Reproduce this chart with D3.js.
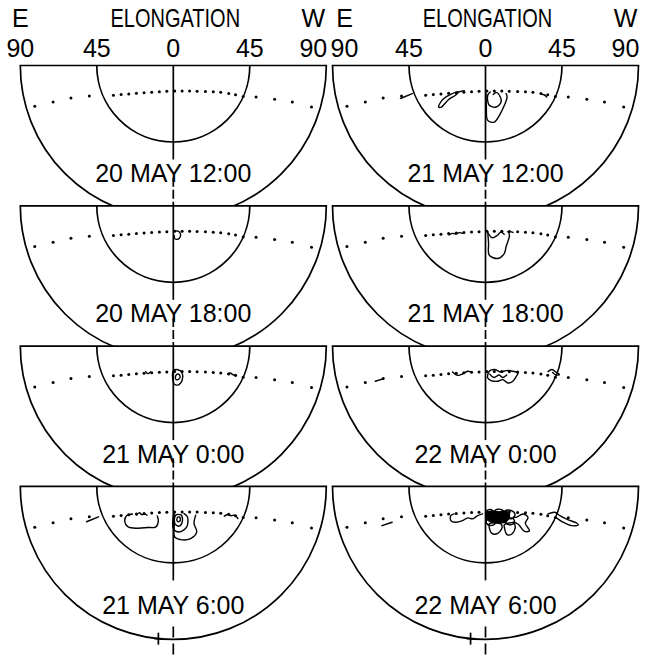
<!DOCTYPE html>
<html>
<head>
<meta charset="utf-8">
<script src="https://cdn.jsdelivr.net/npm/d3@7"></script>
<style>
  html, body { margin: 0; padding: 0; background: #fff; }
  svg { display: block; }
  text { font-family: "Liberation Sans", Arial, sans-serif; fill: #000; }
</style>
</head>
<body>
<svg id="chart" width="651" height="657"></svg>
<script>
// ---- axis text ----
const tickValues = [-90, -45, 0, 45, 90];
const tickLabels = ["90", "45", "0", "45", "90"];
const axisTitle = "ELONGATION";
const sideLabels = ["E", "W"];

// ---- panel timestamps (left column, right column; top to bottom) ----
const leftDates  = ["20 MAY 12:00", "20 MAY 18:00", "21 MAY 0:00", "21 MAY 6:00"];
const rightDates = ["21 MAY 12:00", "21 MAY 18:00", "22 MAY 0:00", "22 MAY 6:00"];

// ---- ecliptic reference dots: elongation (deg, east negative), depth below horizon line (deg) ----
const eclipticX = [-81.5, -70.7, -60.2, -49.4,
  -35.2, -30.7, -26.2, -21.7, -17.2, -12.7, -8.2, -3.8, 0.8, 5.2, 9.6, 14.0, 18.9, 23.5, 27.9, 32.6, 36.6, 41.1,
  48.7, 59.6, 70.0, 81.3];
const eclipticY = [24.0, 21.4, 19.1, 17.9,
  17.5, 17.1, 16.7, 16.3, 16.0, 15.7, 15.4, 15.2, 15.0, 15.0, 15.0, 15.1, 15.3, 15.5, 15.8, 16.4, 17.2, 18.3,
  18.5, 19.8, 21.4, 24.4];

// ---- brightness contours per panel, points as [elongation, depth] in degrees ----
const contours20May1200 = [];
const contours20May1800 = [
  { closed: false, pts: [[0.6, 14.8], [3.2, 15.0], [4.3, 17.0], [3.4, 19.3], [1.0, 19.5], [0.5, 17.5]] }
];
const contours21May0000 = [
  { closed: true,  pts: [[0.0, 14.5], [2.8, 13.9], [5.2, 15.8], [5.3, 19.8], [3.4, 22.6], [0.6, 22.4], [-0.4, 19.0]] },
  { closed: true,  pts: [[1.4, 17.5], [2.8, 16.4], [4.0, 17.6], [3.2, 19.5], [1.6, 19.6]] },
  { closed: false, pts: [[-16.2, 15.0], [-15.0, 16.2], [-13.4, 15.2]] },
  { closed: false, pts: [[32.0, 16.3], [33.5, 15.8], [35.0, 16.8], [36.8, 17.6]] }
];
const contours21May0600 = [
  { closed: false, pts: [[-51.0, 20.8], [-44.0, 17.9]] },
  { closed: false, pts: [[-24.0, 16.2], [-27.5, 17.3], [-28.6, 20.5], [-26.6, 23.8], [-21.0, 24.6], [-15.0, 24.2], [-10.2, 23.8], [-8.8, 20.5], [-9.4, 17.4]] },
  { closed: false, pts: [[-21.5, 16.8], [-20.0, 15.4], [-18.6, 16.6], [-16.5, 16.3], [-15.5, 17.0]] },
  { closed: false, pts: [[0.4, 15.9], [0.6, 22.0], [0.8, 29.7], [4.3, 31.3], [10.2, 30.7], [13.8, 26.8], [12.2, 21.8], [13.2, 16.9]] },
  { closed: false, pts: [[0.3, 16.0], [0.0, 24.7], [3.3, 26.8], [7.9, 23.8], [8.3, 17.9], [6.3, 16.0]] },
  { closed: true,  pts: [[1.4, 16.9], [0.9, 21.8], [3.3, 23.4], [5.3, 20.8], [4.7, 16.9]] },
  { closed: true,  pts: [[2.4, 18.2], [2.3, 20.4], [3.6, 20.6], [4.2, 19.0], [3.4, 18.0]] },
  { closed: false, pts: [[30.0, 17.5], [32.0, 16.5], [34.0, 17.3], [36.0, 16.9], [38.0, 18.9]] }
];
const contours21May1200 = [
  { closed: false, pts: [[-50.0, 19.4], [-43.1, 16.5]] },
  { closed: true,  pts: [[-27.6, 24.4], [-25.0, 19.8], [-20.5, 17.0], [-16.0, 15.6], [-17.5, 17.3], [-22.0, 20.3], [-26.0, 24.5]] },
  { closed: false, pts: [[-16.0, 15.6], [-12.5, 14.8]] },
  { closed: false, pts: [[0.3, 16.5], [0.5, 24.0], [1.3, 32.3], [5.2, 33.3], [8.2, 29.3], [11.1, 23.4], [12.7, 18.5], [12.1, 16.5]] },
  { closed: false, pts: [[2.8, 15.6], [1.3, 17.5], [2.2, 23.4], [6.2, 24.4], [9.2, 21.4], [8.2, 17.5], [6.5, 15.8], [4.5, 17.0]] },
  { closed: false, pts: [[33.0, 17.0], [34.5, 17.2], [36.0, 18.5]] }
];
const contours21May1800 = [
  { closed: false, pts: [[-21.4, 17.2], [-19.5, 16.2], [-17.5, 16.6], [-15.5, 15.8], [-13.5, 16.2]] },
  { closed: false, pts: [[1.3, 15.2], [1.8, 22.0], [2.2, 29.0], [7.2, 31.0], [11.1, 28.0], [12.1, 24.1], [14.1, 17.2], [13.1, 15.2]] },
  { closed: false, pts: [[1.5, 16.0], [4.0, 18.8], [7.0, 17.3], [9.0, 15.5], [11.0, 16.8]] },
  { closed: false, pts: [[14.2, 15.0], [16.2, 15.6]] }
];
const contours22May0000 = [
  { closed: false, pts: [[-64.8, 20.7], [-59.9, 19.1]] },
  { closed: false, pts: [[-19.4, 15.2], [-16.5, 17.2], [-13.5, 16.4], [-10.5, 14.8], [-8.6, 15.2]] },
  { closed: true,  pts: [[2.2, 14.8], [5.2, 13.8], [9.2, 15.2], [12.1, 14.4], [16.1, 14.8], [19.1, 15.8], [18.1, 17.8], [16.1, 20.7], [13.1, 21.7], [10.2, 19.7], [7.2, 20.7], [3.3, 20.3], [1.3, 18.8]] },
  { closed: false, pts: [[2.5, 16.5], [5.0, 18.5], [8.0, 17.0], [10.0, 18.5], [12.5, 17.0]] },
  { closed: false, pts: [[36.8, 15.0], [39.0, 13.8], [41.0, 15.0], [43.5, 16.8], [41.5, 17.0], [39.5, 15.5]] }
];
const contours22May0600 = [
  { closed: false, pts: [[-60.9, 23.1], [-54.9, 21.1]] },
  { closed: false, pts: [[-18.5, 16.2], [-20.4, 17.2], [-20.4, 20.1], [-17.5, 21.1], [-13.5, 20.1], [-10.5, 18.5], [-7.6, 19.1], [-4.6, 17.2], [-1.7, 16.2]] },
  // dense, tangled core of nested contours
  { closed: true, filled: true, pts: [[1.0, 15.2], [4.0, 14.6], [8.0, 15.0], [11.0, 14.6], [13.5, 15.4], [14.0, 18.0], [12.0, 20.8], [8.0, 21.5], [4.0, 21.0], [1.2, 19.8], [0.6, 17.5]] },
  { closed: true,  pts: [[0.3, 14.6], [3.0, 13.6], [5.2, 15.6], [3.2, 18.2], [0.6, 17.2]] },
  { closed: true,  pts: [[5.8, 14.0], [9.0, 13.5], [11.2, 15.5], [9.0, 17.8], [6.4, 16.6]] },
  { closed: true,  pts: [[11.6, 14.4], [15.2, 14.2], [17.4, 16.4], [15.6, 19.0], [12.4, 18.2]] },
  { closed: true,  pts: [[12.5, 19.2], [16.2, 18.8], [17.0, 21.5], [14.0, 22.6], [12.0, 21.4]] },
  { closed: true,  pts: [[1.0, 19.0], [4.5, 19.4], [5.6, 22.0], [2.8, 23.0], [0.6, 21.6]] },
  { closed: true,  pts: [[2.2, 22.0], [2.2, 24.1], [3.7, 27.6], [7.2, 27.6], [9.8, 24.1], [9.0, 22.0]] },
  { closed: true,  pts: [[11.1, 22.5], [11.1, 24.1], [12.7, 28.4], [15.5, 28.0], [17.5, 24.1], [16.5, 21.5]] },
  { closed: false, pts: [[16.5, 18.0], [18.1, 18.2], [22.0, 16.2], [25.0, 18.2], [23.4, 21.7], [25.9, 26.0], [23.0, 26.5], [19.1, 22.1], [16.0, 21.0]] },
  { closed: false, pts: [[36.8, 16.2], [40.7, 15.2], [43.7, 17.2], [48.7, 19.7], [53.6, 21.5], [54.6, 22.7], [50.6, 23.1], [45.7, 21.1], [41.7, 18.5]] }
];
const leftContours  = [contours20May1200, contours20May1800, contours21May0000, contours21May0600];
const rightContours = [contours21May1200, contours21May1800, contours22May0000, contours22May0600];

// reference mark on the lower rim: [elongation, depth] in degrees
const rimMark = [-5.6, 90];

// ---- layout ----
const colCenters = [173.3, 485.5];
const firstTop = 65.5, rowStep = 140.3;
const R = 153;            // pixel radius of the 90 deg circle
const stroke = 1.7;

const svg = d3.select("#chart");

function drawPanel(col, row, date, contours, isLast) {
  const cx = colCenters[col];
  const top = firstTop + row * rowStep;
  const x = d3.scaleLinear().domain([-90, 90]).range([cx - R, cx + R]);
  const y = d3.scaleLinear().domain([0, 90]).range([top, top + R]);
  const r = d3.scaleLinear().domain([0, 90]).range([0, R]);
  const g = svg.append("g");

  // upward dashed continuation of the meridian line
  if (row > 0) {
    g.append("line")
      .attr("x1", x(0)).attr("x2", x(0))
      .attr("y1", top - 28).attr("y2", top)
      .attr("stroke", "#000").attr("stroke-width", stroke)
      .attr("stroke-dasharray", "9,3");
  }

  // outer half-disk (90 deg), white so it hides the panel above
  g.append("path")
    .attr("transform", `translate(${cx},${top})`)
    .attr("d", d3.arc()({ innerRadius: 0, outerRadius: r(90), startAngle: Math.PI / 2, endAngle: 3 * Math.PI / 2 }))
    .attr("fill", "#fff").attr("stroke", "#000").attr("stroke-width", stroke)
    .attr("stroke-linejoin", "miter");

  // inner half circle (45 deg)
  const p = d3.path();
  p.arc(cx, top, r(45), 0, Math.PI);
  g.append("path").attr("d", p.toString())
    .attr("fill", "none").attr("stroke", "#000").attr("stroke-width", stroke);

  // meridian line through the centre
  g.append("line")
    .attr("x1", x(0)).attr("x2", x(0))
    .attr("y1", top).attr("y2", top + 94)
    .attr("stroke", "#000").attr("stroke-width", stroke);

  // ecliptic dots
  g.selectAll("circle.ecl").data(eclipticX.map((e, i) => [e, eclipticY[i]]))
    .enter().append("circle").attr("class", "ecl")
    .attr("cx", d => x(d[0])).attr("cy", d => y(d[1]))
    .attr("r", 1.5).attr("fill", "#000");

  // contours
  contours.forEach(c => {
    const line = d3.line().x(d => x(d[0])).y(d => y(d[1]))
      .curve(c.closed ? d3.curveCatmullRomClosed : d3.curveCatmullRom);
    g.append("path").attr("d", line(c.pts))
      .attr("fill", c.filled ? "#000" : "none")
      .attr("stroke", "#000").attr("stroke-width", 1.4)
      .attr("stroke-linejoin", "round").attr("stroke-linecap", "round");
  });

  // date label
  g.append("text")
    .attr("x", x(0)).attr("y", top + (isLast ? 127.5 : 116.5))
    .attr("text-anchor", "middle").attr("font-size", 25)
    .text(date);

  // rim mark and lower dashed continuation
  const mx = cx + r(rimMark[1]) * Math.sin(rimMark[0] * Math.PI / 180);
  const my = top + r(rimMark[1]) * Math.cos(rimMark[0] * Math.PI / 180);
  g.append("line").attr("x1", mx - 4).attr("x2", mx + 4).attr("y1", my).attr("y2", my)
    .attr("stroke", "#000").attr("stroke-width", stroke);
  g.append("line").attr("x1", mx).attr("x2", mx).attr("y1", my - 6).attr("y2", my + 6)
    .attr("stroke", "#000").attr("stroke-width", stroke);
  g.append("line")
    .attr("x1", x(0)).attr("x2", x(0))
    .attr("y1", top + 140).attr("y2", top + 175)
    .attr("stroke", "#000").attr("stroke-width", stroke)
    .attr("stroke-dasharray", "11,6");
}

// axis header for each column
colCenters.forEach((cx, col) => {
  const x = d3.scaleLinear().domain([-90, 90]).range([cx - R, cx + R]);
  const g = svg.append("g");
  const labelX = tickValues.map((v, i) => {
    if (i === 0) return x(v) + (col === 0 ? 0 : 12);
    if (i === tickValues.length - 1) return x(v) - 13;
    return x(v);
  });
  g.selectAll("text.tick").data(tickLabels).enter().append("text")
    .attr("class", "tick")
    .attr("x", (d, i) => labelX[i]).attr("y", 56.5)
    .attr("text-anchor", "middle").attr("font-size", 25)
    .text(d => d);
  g.append("text").attr("x", labelX[0]).attr("y", 26.5)
    .attr("text-anchor", "middle").attr("font-size", 25).text(sideLabels[0]);
  g.append("text").attr("x", labelX[labelX.length - 1]).attr("y", 26.5)
    .attr("text-anchor", "middle").attr("font-size", 25).text(sideLabels[1]);
  g.append("text")
    .attr("transform", `translate(${x(0) + 2},26.5) scale(0.8,1)`)
    .attr("text-anchor", "middle").attr("font-size", 25)
    .text(axisTitle);
});

// panels, drawn top to bottom so each hides the rim of the one above
for (let row = 0; row < 4; row++) {
  drawPanel(0, row, leftDates[row], leftContours[row], row === 3);
  drawPanel(1, row, rightDates[row], rightContours[row], row === 3);
}
</script>
</body>
</html>
